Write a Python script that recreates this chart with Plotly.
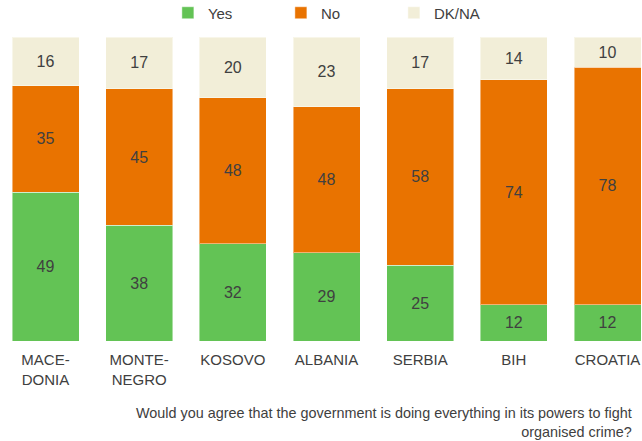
import plotly.graph_objects as go

countries = ["MACE-<br>DONIA", "MONTE-<br>NEGRO", "KOSOVO", "ALBANIA", "SERBIA", "BIH", "CROATIA"]
yes_vals = [49, 38, 32, 29, 25, 12, 12]
no_vals = [35, 45, 48, 48, 58, 74, 78]
dkna_vals = [16, 17, 20, 23, 17, 14, 10]

series = [
    ("Yes", yes_vals, "#63C355"),
    ("No", no_vals, "#E97300"),
    ("DK/NA", dkna_vals, "#F2EED8"),
]

FONT = "Liberation Sans, Arial, sans-serif"
TEXT_COLOR = "#404040"

fig = go.Figure()
for name, vals, color in series:
    fig.add_trace(go.Bar(
        name=name,
        x=list(range(len(countries))),
        y=vals,
        text=[str(v) for v in vals],
        textposition="inside",
        insidetextanchor="middle",
        textangle=0,
        textfont=dict(family=FONT, size=16, color=TEXT_COLOR),
        marker=dict(color=color, line=dict(color="rgba(255,255,255,0.45)", width=1)),
        hoverinfo="skip",
    ))

fig.update_layout(
    barmode="stack",
    bargap=0.285,
    width=642,
    height=441,
    margin=dict(l=0, r=0, t=37, b=100),
    paper_bgcolor="white",
    plot_bgcolor="white",
    font=dict(family=FONT, size=15, color=TEXT_COLOR),
    legend=dict(
        orientation="h",
        x=0.2615, xanchor="left",
        y=0.9705, yanchor="middle",
        yref="container",
        entrywidth=68,
        itemwidth=30,
        font=dict(family=FONT, size=15, color=TEXT_COLOR),
        traceorder="normal",
        bgcolor="rgba(0,0,0,0)",
    ),
    xaxis=dict(
        tickmode="array",
        tickvals=list(range(len(countries))),
        ticktext=countries,
        range=[-0.486, 6.368],
        showgrid=False,
        zeroline=False,
        showline=False,
        ticks="",
        tickfont=dict(family=FONT, size=15, color=TEXT_COLOR),
        ticklabelstandoff=8,
    ),
    yaxis=dict(
        range=[0, 100],
        visible=False,
    ),
    annotations=[
        dict(
            text="Would you agree that the government is doing everything in its powers to fight<br>organised crime?",
            xref="paper", yref="paper",
            x=0.9875, y=-0.205,
            xanchor="right", yanchor="top",
            align="right",
            showarrow=False,
            font=dict(family=FONT, size=14.4, color=TEXT_COLOR),
        )
    ],
)

fig.write_html("out.html")
